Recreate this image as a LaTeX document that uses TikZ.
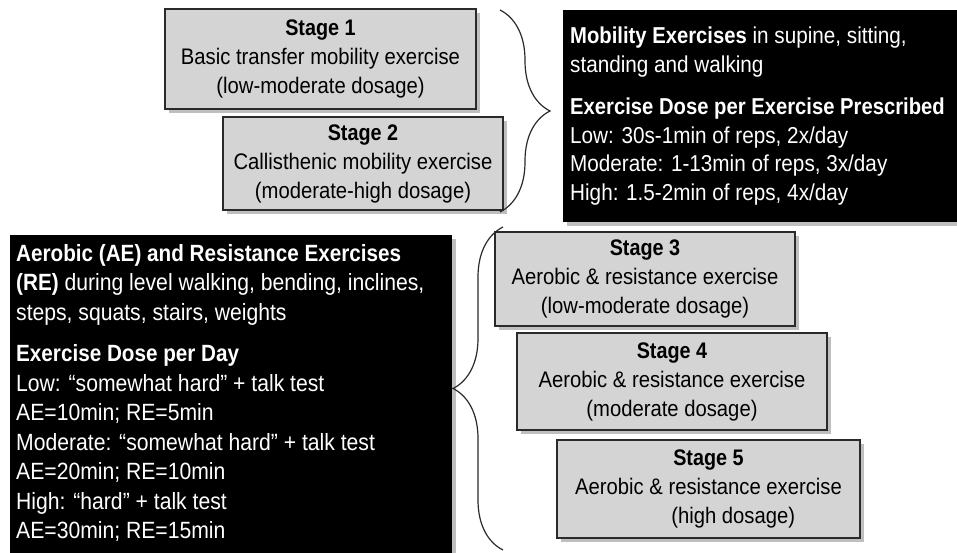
\documentclass[tikz,border=0pt]{standalone}
\usepackage{fontspec}
\setmainfont[FakeStretch=0.9, BoldFeatures={FakeStretch=0.88}]{Liberation Sans}
\usetikzlibrary{shadows,decorations.pathreplacing}
\definecolor{stagegray}{HTML}{D4D4D4}
\definecolor{edgegray}{HTML}{2A2A2A}
\begin{document}
\begin{tikzpicture}[x=1bp,y=-1bp,
  stagebox/.style={draw=edgegray, line width=1.6bp, fill=stagegray, align=center, inner sep=0pt,
    font=\fontsize{22.5bp}{29bp}\selectfont,
    drop shadow={shadow xshift=4bp, shadow yshift=-4bp, opacity=0.25, fill=black}},
  blackbox/.style={fill=black, anchor=north west, inner sep=0pt,
    drop shadow={shadow xshift=4bp, shadow yshift=-4bp, opacity=0.25, fill=black}},
  whitetext/.style={text=white, align=left, anchor=north west, inner sep=0pt},
  bracket/.style={decorate, decoration={brace, amplitude=50bp}, line width=1.2bp, draw=edgegray}]
\useasboundingbox (0,0) rectangle (957,553);

% top-right black box
\node[blackbox, minimum width=400bp, minimum height=212bp] (mob) at (563,10) {};
\node[whitetext, font=\fontsize{23bp}{28.5bp}\selectfont] (mobtxt) at ([xshift=7bp,yshift=-17bp]mob.north west)
 {\textbf{Mobility Exercises} in supine, sitting,\\
  standing and walking\\[14bp]
  \textbf{Exercise Dose per Exercise Prescribed}\\
  Low: 30s-1min of reps, 2x/day\\
  Moderate: 1-13min of reps, 3x/day\\
  High: 1.5-2min of reps, 4x/day};

% bottom-left black box
\node[blackbox, minimum width=442bp, minimum height=330bp] (aer) at (10,235) {};
\node[whitetext, font=\fontsize{23.5bp}{29.5bp}\selectfont] (aertxt) at ([xshift=6bp,yshift=-9bp]aer.north west)
 {\textbf{Aerobic (AE) and Resistance Exercises}\\
  \textbf{(RE)} during level walking, bending, inclines,\\
  steps, squats, stairs, weights\\[12bp]
  \textbf{Exercise Dose per Day}\\
  Low: “somewhat hard” + talk test\\
  AE=10min; RE=5min\\
  Moderate: “somewhat hard” + talk test\\
  AE=20min; RE=10min\\
  High: “hard” + talk test\\
  AE=30min; RE=15min};

% stage boxes
\node[stagebox, minimum width=311bp, minimum height=100bp] (s1) at (320.5,59)
 {\textbf{Stage 1}\\ Basic transfer mobility exercise\\ (low-moderate dosage)};
\node[stagebox, minimum width=280bp, minimum height=93bp] (s2) at (363,163.5)
 {\textbf{Stage 2}\\ Callisthenic mobility exercise\\ (moderate-high dosage)};
\node[stagebox, minimum width=300bp, minimum height=94bp] (s3) at (645,279)
 {\textbf{Stage 3}\\ Aerobic \& resistance exercise\\ (low-moderate dosage)};
\node[stagebox, minimum width=310bp, minimum height=97bp] (s4) at (672,381.5)
 {\textbf{Stage 4}\\ Aerobic \& resistance exercise\\ (moderate dosage)};
\node[stagebox, minimum width=303bp, minimum height=98bp] (s5) at (708.5,489)
 {\textbf{Stage 5}\\ Aerobic \& resistance exercise\\ \hspace*{2.2em}(high dosage)};

% braces
\coordinate (b1top) at (500,10);
\coordinate (b1bot) at (500,212);
\draw[bracket] (b1top) -- (b1bot);
\coordinate (b2top) at (503,227);
\coordinate (b2bot) at (503,550);
\draw[bracket] (b2bot) -- (b2top);
\end{tikzpicture}
\end{document}
